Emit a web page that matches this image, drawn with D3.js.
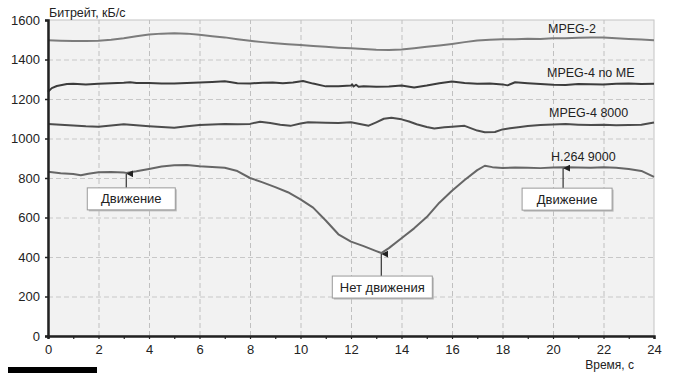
<!DOCTYPE html>
<html><head><meta charset="utf-8">
<script src="https://cdn.jsdelivr.net/npm/d3@7"></script>
<style>
html,body{margin:0;padding:0;background:#fff;}
svg{display:block;font-family:Arial,"Liberation Sans",sans-serif;}
</style></head>
<body><svg id="c" width="676" height="373"></svg>
<script>
// ---- data ----
const yTicks = [0, 200, 400, 600, 800, 1000, 1200, 1400, 1600];
const xTicks = [0, 2, 4, 6, 8, 10, 12, 14, 16, 18, 20, 22, 24];
const xMinorTicks = [0,1,2,3,4,5,6,7,8,9,10,11,12,13,14,15,16,17,18,19,20,21,22,23,24];
const seriesNames = ["MPEG-2", "MPEG-4 no ME", "MPEG-4 8000", "H.264 9000"];

const mpeg2T = [0,0.5,1,1.5,2,2.5,3,3.5,4,4.5,5,5.5,6,6.5,7,7.5,8,8.5,9,9.5,10,10.5,11,11.5,12,12.5,13,13.5,14,14.5,15,15.5,16,16.5,17,17.5,18,18.5,19,19.5,20,20.5,21,21.5,22,22.5,23,23.5,24];
const mpeg2V = [1497,1495,1494,1494,1495,1500,1508,1518,1526,1531,1533,1531,1525,1518,1512,1503,1495,1488,1482,1477,1473,1468,1464,1460,1457,1453,1449,1448,1451,1457,1464,1471,1479,1488,1496,1500,1503,1503,1505,1504,1507,1508,1510,1511,1512,1508,1504,1501,1497];

const noMeT = [0,0.15,0.35,0.75,1,1.5,2,2.5,3,3.25,3.5,4,4.5,5,5.5,6,6.5,7,7.2,7.5,8,8.5,8.9,9.3,9.7,10.1,10.5,11,11.5,12,12.05,12.1,12.2,12.3,12.5,13,13.5,14,14.5,15,15.5,16,16.5,17,17.5,18,18.2,18.5,19,19.5,20,20.5,21,21.5,22,22.5,23,23.5,24];
const noMeV = [1237,1255,1266,1276,1277,1274,1277,1280,1282,1285,1281,1281,1279,1278,1281,1283,1286,1290,1286,1280,1279,1282,1284,1280,1283,1291,1278,1264,1265,1268,1274,1263,1272,1262,1264,1262,1263,1268,1258,1268,1280,1289,1281,1277,1279,1274,1269,1285,1280,1276,1272,1271,1276,1275,1274,1277,1278,1276,1277];

const m8000T = [0,0.5,1,1.5,2,2.5,3,3.5,4,4.5,5,5.5,6,6.5,7,7.5,8,8.4,8.8,9.2,9.6,10,10.3,11,11.5,12,12.4,12.7,13,13.3,13.6,14,14.3,14.6,15,15.3,15.7,16,16.5,17,17.3,17.7,18,18.3,18.7,19,19.5,20,20.5,21,21.5,22,22.5,23,23.5,24];
const m8000V = [1073,1070,1066,1062,1060,1066,1072,1067,1062,1058,1055,1062,1068,1071,1073,1072,1074,1085,1078,1070,1064,1076,1082,1080,1079,1082,1072,1065,1082,1100,1105,1097,1086,1072,1058,1051,1057,1060,1064,1040,1032,1033,1046,1052,1058,1063,1068,1071,1073,1070,1068,1069,1067,1068,1070,1081];

const h264T = [0,0.5,1,1.3,1.6,2,2.5,3,3.1,3.5,4,4.5,5,5.5,6,6.5,7,7.5,8,8.5,9,9.5,10,10.5,11,11.5,12,12.5,13,13.2,13.5,14,14.5,15,15.5,16,16.5,17,17.3,17.6,18,18.5,19,19.5,20,20.5,21,21.5,22,22.5,23,23.5,24];
const h264V = [832,824,820,814,822,829,830,828,826,834,846,858,864,866,860,856,852,835,800,778,754,728,692,650,585,515,478,455,430,420,445,495,545,602,675,735,790,840,862,855,851,853,852,850,853,855,853,852,854,852,845,836,806];

const noteTexts = ["Движение", "Нет движения", "Движение"];
const noteT = [3.1, 13.2, 20.4];
const noteV = [826, 420, 855];

// ---- layout ----
const W = 676, H = 373;
const m = {l: 48, r: 22, t: 20, b: 37};
const svg = d3.select("#c");
const x = d3.scaleLinear().domain([0, 24]).range([m.l, W - m.r]);
const y = d3.scaleLinear().domain([0, 1600]).range([H - m.b, m.t]);
const font = 'Arial,"Liberation Sans",sans-serif';

// plot background
svg.append("rect").attr("x", x(0)).attr("y", y(1600))
  .attr("width", x(24) - x(0)).attr("height", y(0) - y(1600))
  .attr("fill", "#f2f2f2").attr("stroke", "#c4c4c4").attr("stroke-width", 1);

// grid
svg.append("g").selectAll("line").data(yTicks.filter(d => d > 0 && d < 1600)).join("line")
  .attr("x1", x(0)).attr("x2", x(24)).attr("y1", d => y(d) + 0.5).attr("y2", d => y(d) + 0.5)
  .attr("stroke", "#c8c8c8").attr("stroke-dasharray", "5,3");
svg.append("g").selectAll("line").data(xTicks.filter(d => d > 0 && d < 24)).join("line")
  .attr("x1", d => x(d) + 0.5).attr("x2", d => x(d) + 0.5).attr("y1", y(0)).attr("y2", y(1600))
  .attr("stroke", "#c0c0c0").attr("stroke-dasharray", "5,3");

// series
const series = [
  {t: mpeg2T, v: mpeg2V, color: "#7c7c7c"},
  {t: noMeT, v: noMeV, color: "#3c3c3c"},
  {t: m8000T, v: m8000V, color: "#4c4c4c"},
  {t: h264T, v: h264V, color: "#666666"}
];
const line = d3.line().x(d => x(d[0])).y(d => y(d[1]));
series.forEach(s => {
  svg.append("path").datum(s.t.map((t, i) => [t, s.v[i]]))
    .attr("d", line).attr("fill", "none").attr("stroke", s.color)
    .attr("stroke-width", 2).attr("stroke-linejoin", "round");
});

// series labels
const labelPos = [[548, 33], [547, 77], [549, 117], [551, 161]];
seriesNames.forEach((n, i) => {
  svg.append("text").attr("x", labelPos[i][0]).attr("y", labelPos[i][1])
    .attr("font-size", 12.5).attr("fill", "#222").attr("font-family", font).text(n);
});

// axes
const yAxis = svg.append("g").attr("transform", `translate(${x(0)},0)`)
  .call(d3.axisLeft(y).tickValues(yTicks).tickSize(3).tickPadding(5).tickFormat(d3.format("d")));
yAxis.select(".domain").attr("stroke", "#222").attr("stroke-width", 2.5);
yAxis.selectAll(".tick line").attr("stroke", "#222").attr("stroke-width", 1.5);
yAxis.selectAll("text").attr("font-size", 13).attr("fill", "#222").attr("font-family", font);

const xAxis = svg.append("g").attr("transform", `translate(0,${y(0)})`)
  .call(d3.axisBottom(x).tickValues(xMinorTicks).tickSize(3).tickPadding(6)
    .tickFormat(d => xTicks.includes(d) ? d : ""));
xAxis.select(".domain").attr("stroke", "#222").attr("stroke-width", 2.5);
xAxis.selectAll(".tick line").attr("stroke", "#222").attr("stroke-width", 1.2);
xAxis.selectAll("text").attr("font-size", 13).attr("fill", "#222").attr("font-family", font);

// axis titles
svg.append("text").attr("x", 49).attr("y", 17).attr("font-size", 12.5)
  .attr("fill", "#222").attr("font-family", font).text("Битрейт, кБ/с");
svg.append("text").attr("x", 634).attr("y", 369).attr("text-anchor", "end").attr("font-size", 12)
  .attr("fill", "#222").attr("font-family", font).text("Время, с");

// annotations
svg.append("defs").append("marker").attr("id", "ah").attr("viewBox", "0 0 6 6")
  .attr("refX", 3).attr("refY", 0).attr("markerWidth", 6).attr("markerHeight", 6)
  .attr("orient", "auto-start-reverse")
  .append("path").attr("d", "M0,6 L3,0 L6,6 Z").attr("fill", "#222");
const noteDy = [15, 23, 21];
const noteW = [88, 100, 90];
const noteDx = [5, 1, 4];
noteTexts.forEach((txt, i) => {
  const ax = x(noteT[i]), ay = y(noteV[i]);
  const top = ay + noteDy[i];
  const cx = ax + noteDx[i];
  svg.append("line").attr("x1", ax).attr("x2", ax).attr("y1", top).attr("y2", ay + 1)
    .attr("stroke", "#333").attr("stroke-width", 1.2).attr("marker-end", "url(#ah)");
  svg.append("rect").attr("x", cx - noteW[i] / 2 + 1.5).attr("y", top + 1.5)
    .attr("width", noteW[i]).attr("height", 22).attr("fill", "#bbb");
  svg.append("rect").attr("x", cx - noteW[i] / 2).attr("y", top)
    .attr("width", noteW[i]).attr("height", 22).attr("fill", "#fff")
    .attr("stroke", "#9a9a9a").attr("stroke-width", 1);
  svg.append("text").attr("x", cx).attr("y", top + 15.5).attr("text-anchor", "middle")
    .attr("font-size", 13).attr("fill", "#222").attr("font-family", font).text(txt);
});

// bottom-left black bar from the scan
svg.append("rect").attr("x", 8).attr("y", 367).attr("width", 89).attr("height", 6).attr("fill", "#000");
</script></body></html>
